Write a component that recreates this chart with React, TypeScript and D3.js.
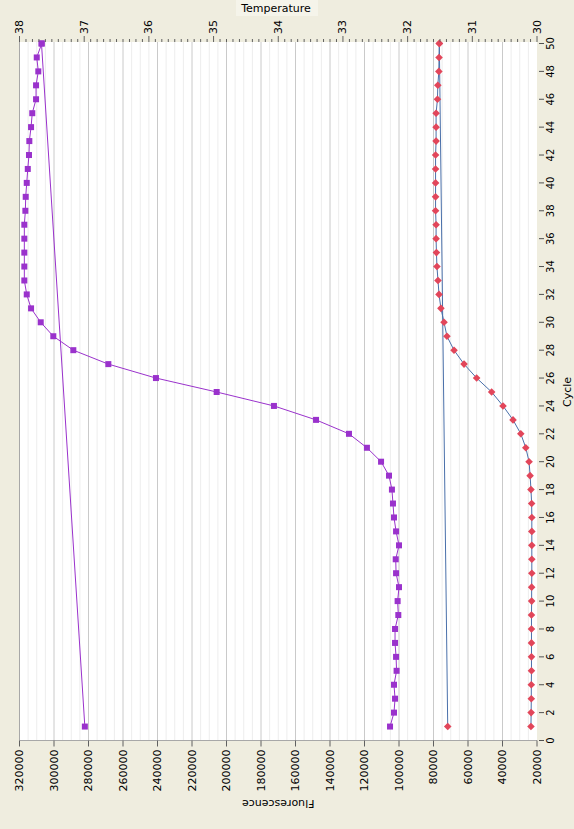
import React from "react";
import * as d3 from "d3";

const cycles = [1,2,3,4,5,6,7,8,9,10,11,12,13,14,15,16,17,18,19,20,21,22,23,24,25,26,27,28,29,30,31,32,33,34,35,36,37,38,39,40,41,42,43,44,45,46,47,48,49,50];

const purpleF = [105200,102900,102300,102900,101400,101700,102300,102300,100400,100800,100000,101700,101900,100000,101700,102900,103500,104100,105800,110400,118600,129000,148100,172500,205700,240900,268500,288800,300400,307700,313300,315800,317200,317200,317200,317200,317200,316600,316400,315800,315200,314500,314300,313300,312600,310400,310400,309100,310000,307100];

const redF = [23500,23400,23300,23300,23200,23200,23200,23200,23200,23100,23100,23000,23000,23000,23000,23000,23100,23500,24000,24600,26500,29400,33900,39700,46300,55000,62300,68100,72200,73900,75700,76800,77400,78000,78300,78500,78500,78800,78800,78800,78800,78800,78500,78500,78500,77700,77500,76900,76800,76600];

// temperature traces (cycle, °C)
const purpleTemp: [number, number][] = [[1, 36.99], [50, 37.66]];
const blueTemp: [number, number][] = [[1, 31.38], [50, 31.51]];

const fluoTicks = [320000,300000,280000,260000,240000,220000,200000,180000,160000,140000,120000,100000,80000,60000,40000,20000];
const tempTicks = [38,37,36,35,34,33,32,31,30];
const cycleTicks = [0,2,4,6,8,10,12,14,16,18,20,22,24,26,28,30,32,34,36,38,40,42,44,46,48,50];

const W = 574, H = 829;
const PL = 19.5, PR = 537, PT = 42, PB = 740.5;
const FONT = "DejaVu Sans, Verdana, sans-serif";
const PURPLE = "#9a32cc";
const RED = "#e2465a";
const BLUE = "#4a70aa";

export default function App() {
  const yC = d3.scaleLinear().domain([0, 50]).range([PB, 43.5]);
  const xF = d3.scaleLinear().domain([20000, 320000]).range([PR, PL]);
  const xT = d3.scaleLinear().domain([30, 38]).range([PR, PL]);

  const minorGrid = d3.range(20000, 320001, 5000).filter((v) => v % 20000 !== 0);
  const majorGrid = fluoTicks.filter((v) => v !== 20000 && v !== 320000);
  const tempMinor = d3.range(300, 381).map((v) => v / 10);

  const lineF = d3.line<number>().x((d) => xF(d)).y((_, i) => yC(cycles[i]));
  const lineT = d3.line<[number, number]>().x((d) => xT(d[1])).y((d) => yC(d[0]));

  const square = (x: number, y: number, k: string) => (
    <rect key={k} x={x - 3} y={y - 3} width={6} height={6} fill={PURPLE} />
  );
  const diamond = (x: number, y: number, k: string) => (
    <path key={k} d={`M${x},${y - 3.8}L${x + 3.8},${y}L${x},${y + 3.8}L${x - 3.8},${y}Z`} fill={RED} />
  );

  return (
    <svg width={W} height={H} style={{ position: "absolute", left: 0, top: 0 }} fontFamily={FONT}>
      <rect x={0} y={0} width={W} height={H} fill="#efeddf" />
      <rect x={PL} y={PT} width={PR - PL} height={PB - PT} fill="#ffffff" />
      {minorGrid.map((v) => (
        <line key={"mg" + v} x1={xF(v)} x2={xF(v)} y1={PT} y2={PB} stroke="#ededed" strokeWidth={1} />
      ))}
      {majorGrid.map((v) => (
        <line key={"Mg" + v} x1={xF(v)} x2={xF(v)} y1={PT} y2={PB} stroke="#cacaca" strokeWidth={1} />
      ))}
      <line x1={PL} x2={PL} y1={PT} y2={PB} stroke="#a8a8a8" />
      <line x1={PL} x2={PR} y1={PB} y2={PB} stroke="#a8a8a8" />

      {/* temperature traces */}
      <path d={lineT(purpleTemp) || ""} fill="none" stroke={PURPLE} strokeWidth={1} />
      <path d={lineT(blueTemp) || ""} fill="none" stroke={BLUE} strokeWidth={1} />

      {/* fluorescence curves */}
      <path d={lineF(purpleF) || ""} fill="none" stroke={PURPLE} strokeWidth={1} />
      <path d={lineF(redF) || ""} fill="none" stroke={BLUE} strokeWidth={1} />
      {purpleF.map((v, i) => square(xF(v), yC(cycles[i]), "ps" + i))}
      {redF.map((v, i) => diamond(xF(v), yC(cycles[i]), "rd" + i))}
      {purpleTemp.map((d, i) => square(xT(d[1]), yC(d[0]), "pt" + i))}
      {blueTemp.map((d, i) => diamond(xT(d[1]), yC(d[0]), "bt" + i))}

      {/* bottom axis: Fluorescence */}
      {fluoTicks.map((v) => (
        <g key={"ft" + v}>
          <line x1={xF(v)} x2={xF(v)} y1={PB} y2={PB + 6} stroke="#606060" />
          <text
            transform={`translate(${xF(v)},${PB + 9}) rotate(-90)`}
            textAnchor="end"
            dominantBaseline="central"
            fontSize={11}
            fill="#000"
          >
            {v}
          </text>
        </g>
      ))}
      <text transform={`translate(${(PL + PR) / 2},803) rotate(180)`} textAnchor="middle" dominantBaseline="central" fontSize={11} fill="#000">
        Fluorescence
      </text>

      {/* top axis: Temperature */}
      {tempMinor.map((v) => {
        const major = Math.abs(v - Math.round(v)) < 1e-6;
        return (
          <line key={"tm" + v} x1={xT(v)} x2={xT(v)} y1={PT} y2={major ? PT - 6 : PT - 3} stroke="#606060" />
        );
      })}
      {tempTicks.map((v) => (
        <text
          key={"tt" + v}
          transform={`translate(${xT(v)},${PT - 8}) rotate(-90)`}
          textAnchor="start"
          dominantBaseline="central"
          fontSize={11}
          fill="#000"
        >
          {v}
        </text>
      ))}
      <rect x={236} y={0} width={82} height={16} fill="#f5f4ea" />
      <text x={276} y={12} textAnchor="middle" fontSize={11} fill="#000">
        Temperature
      </text>

      {/* right axis: Cycle */}
      {cycleTicks.map((v) => (
        <g key={"ct" + v}>
          <line x1={PR + 2} x2={PR + 7} y1={yC(v)} y2={yC(v)} stroke="#505050" />
          <text
            transform={`translate(${PR + 13},${yC(v)}) rotate(-90)`}
            textAnchor="middle"
            dominantBaseline="central"
            fontSize={10}
            fill="#000"
          >
            {v}
          </text>
        </g>
      ))}
      <text transform={`translate(567,${(PB + 43.5) / 2}) rotate(-90)`} textAnchor="middle" dominantBaseline="central" fontSize={11} fill="#000">
        Cycle
      </text>
    </svg>
  );
}
